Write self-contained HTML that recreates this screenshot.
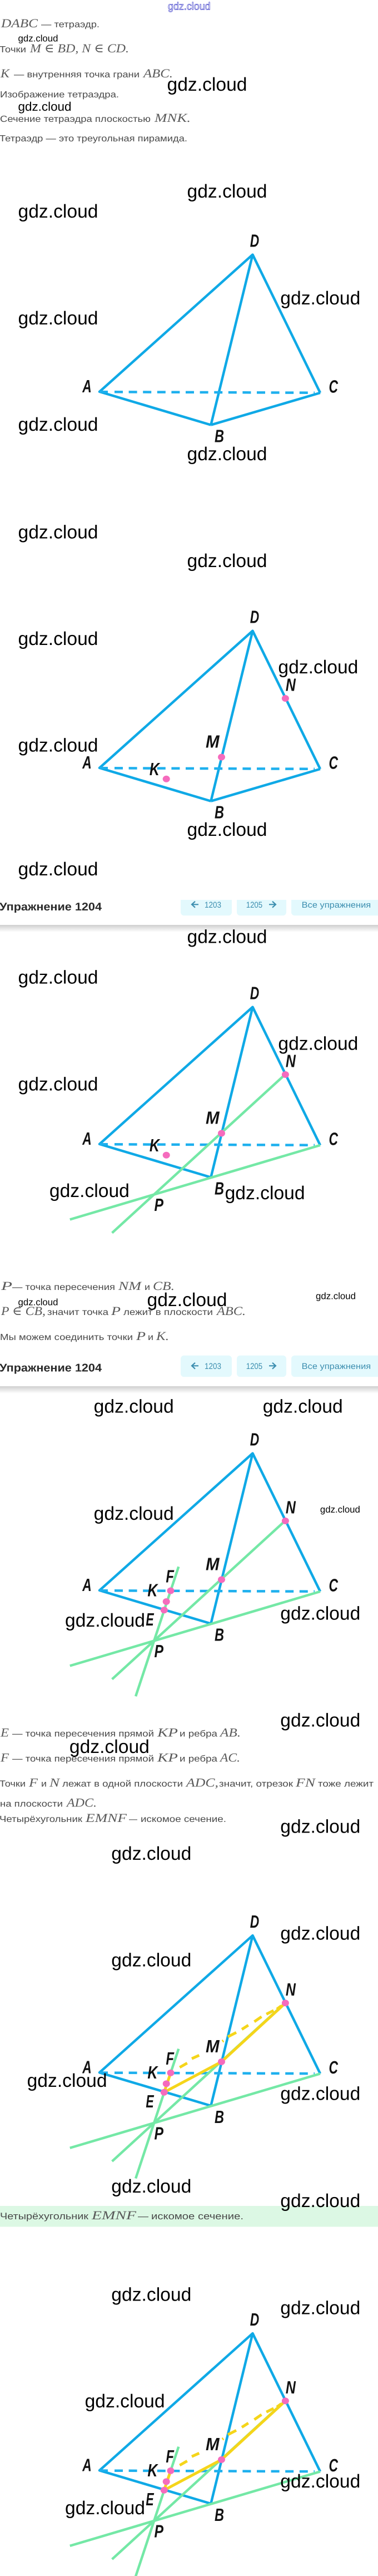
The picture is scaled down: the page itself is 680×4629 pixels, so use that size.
<!DOCTYPE html>
<html lang="ru"><head><meta charset="utf-8"><title>Упражнение 1204</title>
<style>
html,body{margin:0;padding:0;background:#fff}
svg{display:block}
.w{font-family:"Liberation Sans",sans-serif;font-size:33.6px;fill:#000}
.s{font-size:16.8px}.md{font-size:22.4px}
.t{font-family:"Liberation Sans",sans-serif;font-size:16px;fill:#4a4a4a}
.m{font-family:"Liberation Serif","DejaVu Serif",serif;font-style:italic;font-size:22px;fill:#5a5a5a}
.l{font-family:"Liberation Sans",sans-serif;font-style:italic;font-weight:bold;font-size:32px;fill:#111}
.h{font-family:"Liberation Sans",sans-serif;font-weight:bold;font-size:20px;fill:#2a2a2a}
.b{font-family:"Liberation Sans",sans-serif;font-size:15px;fill:#3d8fb0}
.bl{stroke:#0fa9e6;stroke-width:4.5;fill:none;stroke-linejoin:round}
.gr{stroke:#74e8a6;stroke-width:4.5;fill:none}
.ye{stroke:#f5d51a;stroke-width:5;fill:none}
.ar{stroke:#3d8fb0;stroke-width:2.2;fill:none}
.dot{fill:#f56bbd}
</style></head><body>
<svg xmlns="http://www.w3.org/2000/svg" width="680" height="4629" viewBox="0 0 680 4629" text-rendering="geometricPrecision">
<defs>
<linearGradient id="sh" x1="0" y1="0" x2="0" y2="1"><stop offset="0" stop-color="#cfcfcf"/><stop offset="1" stop-color="#fff"/></linearGradient>
<g id="tet">
<path class="bl" d="M379.4 763.6L179 703.9L454.5 457.6L576 705.9M454.5 457.6L379.4 763.6"/>
<line x1="179" y1="703.9" x2="194" y2="704" stroke="#1eb0ee" stroke-width="4"/>
<line x1="206" y1="704.3" x2="566" y2="705.8" stroke="#1eb0ee" stroke-width="4.5" stroke-dasharray="15 10.6"/>
</g>
<path id="bc" class="bl" d="M379.4 763.6L576 705.9"/>
<g id="g1"><path class="gr" d="M576 705.9L125.8 839.4"/><path class="gr" d="M513.4 578.4L201.6 863.5"/></g>
<path id="g2" class="gr" d="M321.3 661.3L244.1 894.2"/>
<g id="yel">
<path class="ye" d="M307 704.5L295.3 739.3L398.5 684.5L513.4 579"/>
<path class="ye" d="M323.3 694.6L336.7 686.9M345 678.9L358.3 672.9M400 647.9L402 646.6M410 639.6L425 631.9M435 626.3L446.7 618.9M457.5 612.5L470.5 603.5M479.2 599L492.2 592.4M498 590L506 584"/>
</g>
</defs>

<!-- text block 1 -->
<text x="302" y="17.4" font-family="Liberation Sans,sans-serif" font-size="19" fill="#fff" stroke="#3a3ac8" stroke-width=".7" textLength="76.6" lengthAdjust="spacingAndGlyphs">gdz.cloud</text>
<text class="m" x="2" y="49" textLength="66" lengthAdjust="spacingAndGlyphs">DABC</text>
<text class="t" x="74" y="49" textLength="105" lengthAdjust="spacingAndGlyphs">— тетраэдр.</text>
<text class="t" x="-1" y="94" textLength="48" lengthAdjust="spacingAndGlyphs">Точки</text>
<text class="m" x="54" y="94" textLength="178" lengthAdjust="spacingAndGlyphs">M ∈ BD, N ∈ CD.</text>
<text class="m" x="1" y="139" textLength="16" lengthAdjust="spacingAndGlyphs">K</text>
<text class="t" x="25" y="139" textLength="226" lengthAdjust="spacingAndGlyphs">— внутренняя точка грани</text>
<text class="m" x="258" y="139" textLength="53" lengthAdjust="spacingAndGlyphs">ABC.</text>
<text class="t" x="0" y="175" textLength="214" lengthAdjust="spacingAndGlyphs">Изображение тетраэдра.</text>
<text class="t" x="0" y="219" textLength="271" lengthAdjust="spacingAndGlyphs">Сечение тетраэдра плоскостью</text>
<text class="m" x="278" y="219" textLength="65" lengthAdjust="spacingAndGlyphs">MNK.</text>
<text class="t" x="-1" y="223.5" display="none"></text>
<text class="t" x="-1" y="254" textLength="338" lengthAdjust="spacingAndGlyphs">Тетраэдр — это треугольная пирамида.</text>

<!-- diagram 1 -->
<g>
<use href="#tet"/><use href="#bc"/>
<text class="l" x="449.7" y="443.7" textLength="16.5" lengthAdjust="spacingAndGlyphs">D</text>
<text class="l" x="148.3" y="705" textLength="16.5" lengthAdjust="spacingAndGlyphs">A</text>
<text class="l" x="591.5" y="705.4" textLength="16.5" lengthAdjust="spacingAndGlyphs">C</text>
<text class="l" x="386" y="794.5" textLength="17" lengthAdjust="spacingAndGlyphs">B</text>
</g>

<!-- diagram 2 -->
<g transform="translate(0,676)">
<use href="#tet"/><use href="#bc"/>
<ellipse class="dot" cx="513.4" cy="579" rx="6.5" ry="6"/><ellipse class="dot" cx="398.5" cy="684.5" rx="6.5" ry="6"/><ellipse class="dot" cx="299.2" cy="723.8" rx="6.5" ry="6"/>
<text class="l" x="449.7" y="443.7" textLength="16.5" lengthAdjust="spacingAndGlyphs">D</text>
<text class="l" x="148.3" y="705" textLength="16.5" lengthAdjust="spacingAndGlyphs">A</text>
<text class="l" x="591.5" y="705.4" textLength="16.5" lengthAdjust="spacingAndGlyphs">C</text>
<text class="l" x="386" y="794.5" textLength="17" lengthAdjust="spacingAndGlyphs">B</text>
<text class="l" x="513.9" y="565.7" textLength="18" lengthAdjust="spacingAndGlyphs">N</text>
<text class="l" x="370" y="667.7" textLength="24.6" lengthAdjust="spacingAndGlyphs">M</text>
<text class="l" x="268.9" y="717" textLength="18" lengthAdjust="spacingAndGlyphs">K</text>
</g>

<!-- header 1 -->
<rect x="0" y="1662" width="680" height="13" fill="url(#sh)"/>
<text class="h" x="-1" y="1635.8" textLength="184" lengthAdjust="spacingAndGlyphs">Упражнение 1204</text>
<path d="M325 1617H417V1639.3a6 6 0 0 1-6 6H331a6 6 0 0 1-6-6Z" fill="#e3f9fd"/>
<path d="M426 1617H515V1639.3a6 6 0 0 1-6 6H432a6 6 0 0 1-6-6Z" fill="#e3f9fd"/>
<path d="M524 1617H680V1645.3H530a6 6 0 0 1-6-6Z" fill="#e3f9fd"/>
<path class="ar" d="M357 1625.3H345M351 1619.8L345 1625.3L351 1630.8"/>
<text class="b" x="368" y="1631" textLength="30" lengthAdjust="spacingAndGlyphs">1203</text>
<text class="b" x="442.7" y="1631" textLength="29.5" lengthAdjust="spacingAndGlyphs">1205</text>
<path class="ar" d="M484 1625.3H496M490 1619.8L496 1625.3L490 1630.8"/>
<text class="b" x="542.7" y="1631" textLength="124.5" lengthAdjust="spacingAndGlyphs">Все упражнения</text>

<!-- diagram 3 -->
<g transform="translate(0,1352)">
<use href="#tet"/><use href="#g1"/>
<ellipse class="dot" cx="513.4" cy="579" rx="6.5" ry="6"/><ellipse class="dot" cx="398.5" cy="684.5" rx="6.5" ry="6"/><ellipse class="dot" cx="299.2" cy="723.8" rx="6.5" ry="6"/>
<text class="l" x="449.7" y="443.7" textLength="16.5" lengthAdjust="spacingAndGlyphs">D</text>
<text class="l" x="148.3" y="705" textLength="16.5" lengthAdjust="spacingAndGlyphs">A</text>
<text class="l" x="591.5" y="705.4" textLength="16.5" lengthAdjust="spacingAndGlyphs">C</text>
<text class="l" x="386" y="794.5" textLength="17" lengthAdjust="spacingAndGlyphs">B</text>
<text class="l" x="513.9" y="565.7" textLength="18" lengthAdjust="spacingAndGlyphs">N</text>
<text class="l" x="370" y="667.7" textLength="24.6" lengthAdjust="spacingAndGlyphs">M</text>
<text class="l" x="268.9" y="717" textLength="18" lengthAdjust="spacingAndGlyphs">K</text>
<text class="l" x="277.5" y="824" textLength="16.5" lengthAdjust="spacingAndGlyphs">P</text>
</g>

<!-- text block 2 -->
<text class="m" x="2" y="2318" textLength="20" lengthAdjust="spacingAndGlyphs">P</text>
<text class="t" x="22" y="2318" textLength="185" lengthAdjust="spacingAndGlyphs">— точка пересечения</text>
<text class="m" x="213" y="2318" textLength="41" lengthAdjust="spacingAndGlyphs">NM</text>
<text class="t" x="260" y="2318" textLength="10" lengthAdjust="spacingAndGlyphs">и</text>
<text class="m" x="275" y="2318" textLength="39" lengthAdjust="spacingAndGlyphs">CB.</text>
<text class="m" x="2" y="2363" textLength="80" lengthAdjust="spacingAndGlyphs">P ∈ CB,</text>
<text class="t" x="85" y="2363" textLength="110" lengthAdjust="spacingAndGlyphs">значит точка</text>
<text class="m" x="200" y="2363" textLength="17" lengthAdjust="spacingAndGlyphs">P</text>
<text class="t" x="222" y="2363" textLength="161" lengthAdjust="spacingAndGlyphs">лежит в плоскости</text>
<text class="m" x="390" y="2363" textLength="52" lengthAdjust="spacingAndGlyphs">ABC.</text>
<text class="t" x="0" y="2408" textLength="239" lengthAdjust="spacingAndGlyphs">Мы можем соединить точки</text>
<text class="m" x="245" y="2408" textLength="17" lengthAdjust="spacingAndGlyphs">P</text>
<text class="t" x="266" y="2408" textLength="10" lengthAdjust="spacingAndGlyphs">и</text>
<text class="m" x="281" y="2408" textLength="23" lengthAdjust="spacingAndGlyphs">K.</text>

<!-- header 2 -->
<rect x="0" y="2491" width="680" height="13" fill="url(#sh)"/>
<text class="h" x="-1" y="2464.5" textLength="184" lengthAdjust="spacingAndGlyphs">Упражнение 1204</text>
<rect x="325" y="2435.7" width="92" height="38.6" rx="6" fill="#e3f9fd"/>
<rect x="426" y="2435.7" width="89" height="38.6" rx="6" fill="#e3f9fd"/>
<path d="M680 2435.7H530a6 6 0 0 0-6 6V2468.3a6 6 0 0 0 6 6H680Z" fill="#e3f9fd"/>
<path class="ar" d="M357 2454.3H345M351 2448.8L345 2454.3L351 2459.8"/>
<text class="b" x="368" y="2460" textLength="30" lengthAdjust="spacingAndGlyphs">1203</text>
<text class="b" x="442.7" y="2460" textLength="29.5" lengthAdjust="spacingAndGlyphs">1205</text>
<path class="ar" d="M484 2454.3H496M490 2448.8L496 2454.3L490 2459.8"/>
<text class="b" x="542.7" y="2460" textLength="124.5" lengthAdjust="spacingAndGlyphs">Все упражнения</text>

<!-- diagram 4 -->
<g transform="translate(0,2154)">
<use href="#tet"/><use href="#g1"/><use href="#g2"/>
<ellipse class="dot" cx="513.4" cy="579" rx="6.5" ry="6"/><ellipse class="dot" cx="398.5" cy="684.5" rx="6.5" ry="6"/><ellipse class="dot" cx="299.2" cy="724" rx="6.5" ry="6"/><ellipse class="dot" cx="307" cy="704.5" rx="6.5" ry="6"/><ellipse class="dot" cx="295.3" cy="739.3" rx="6.5" ry="6"/>
<text class="l" x="449.7" y="443.7" textLength="16.5" lengthAdjust="spacingAndGlyphs">D</text>
<text class="l" x="148.3" y="705" textLength="16.5" lengthAdjust="spacingAndGlyphs">A</text>
<text class="l" x="591.5" y="705.4" textLength="16.5" lengthAdjust="spacingAndGlyphs">C</text>
<text class="l" x="386" y="794.5" textLength="17" lengthAdjust="spacingAndGlyphs">B</text>
<text class="l" x="513.9" y="565.7" textLength="18" lengthAdjust="spacingAndGlyphs">N</text>
<text class="l" x="370" y="667.7" textLength="24.6" lengthAdjust="spacingAndGlyphs">M</text>
<text class="l" x="265.4" y="714.6" textLength="18" lengthAdjust="spacingAndGlyphs">K</text>
<text class="l" x="277.5" y="824" textLength="16.5" lengthAdjust="spacingAndGlyphs">P</text>
<text class="l" x="298.4" y="689.4" textLength="14.6" lengthAdjust="spacingAndGlyphs">F</text>
<text class="l" x="262.4" y="766.8" textLength="14.3" lengthAdjust="spacingAndGlyphs">E</text>
</g>

<!-- text block 3 -->
<text class="m" x="1" y="3120.7" textLength="15" lengthAdjust="spacingAndGlyphs">E</text>
<text class="t" x="22" y="3120.7" textLength="255" lengthAdjust="spacingAndGlyphs">— точка пересечения прямой</text>
<text class="m" x="283" y="3120.7" textLength="37" lengthAdjust="spacingAndGlyphs">KP</text>
<text class="t" x="323" y="3120.7" textLength="68" lengthAdjust="spacingAndGlyphs">и ребра</text>
<text class="m" x="396" y="3120.7" textLength="37" lengthAdjust="spacingAndGlyphs">AB.</text>
<text class="m" x="1" y="3165.7" textLength="15" lengthAdjust="spacingAndGlyphs">F</text>
<text class="t" x="22" y="3165.7" textLength="255" lengthAdjust="spacingAndGlyphs">— точка пересечения прямой</text>
<text class="m" x="283" y="3165.7" textLength="37" lengthAdjust="spacingAndGlyphs">KP</text>
<text class="t" x="323" y="3165.7" textLength="68" lengthAdjust="spacingAndGlyphs">и ребра</text>
<text class="m" x="396" y="3165.7" textLength="36" lengthAdjust="spacingAndGlyphs">AC.</text>
<text class="t" x="-1" y="3210.7" textLength="47" lengthAdjust="spacingAndGlyphs">Точки</text>
<text class="m" x="52" y="3210.7" textLength="16" lengthAdjust="spacingAndGlyphs">F</text>
<text class="t" x="74" y="3210.7" textLength="10" lengthAdjust="spacingAndGlyphs">и</text>
<text class="m" x="89" y="3210.7" textLength="18" lengthAdjust="spacingAndGlyphs">N</text>
<text class="t" x="112" y="3210.7" textLength="217" lengthAdjust="spacingAndGlyphs">лежат в одной плоскости</text>
<text class="m" x="335" y="3210.7" textLength="58" lengthAdjust="spacingAndGlyphs">ADC,</text>
<text class="t" x="394" y="3210.7" textLength="133" lengthAdjust="spacingAndGlyphs">значит, отрезок</text>
<text class="m" x="532" y="3210.7" textLength="35" lengthAdjust="spacingAndGlyphs">FN</text>
<text class="t" x="572" y="3210.7" textLength="100" lengthAdjust="spacingAndGlyphs">тоже лежит</text>
<text class="t" x="0" y="3246.7" textLength="113" lengthAdjust="spacingAndGlyphs">на плоскости</text>
<text class="m" x="120" y="3246.7" textLength="54" lengthAdjust="spacingAndGlyphs">ADC.</text>
<text class="t" x="-1" y="3274" textLength="149" lengthAdjust="spacingAndGlyphs">Четырёхугольник</text>
<text class="m" x="154" y="3274" textLength="74" lengthAdjust="spacingAndGlyphs">EMNF</text>
<text class="t" x="232" y="3274" textLength="15" lengthAdjust="spacingAndGlyphs">—</text>
<text class="t" x="253" y="3274" textLength="154" lengthAdjust="spacingAndGlyphs">искомое сечение.</text>

<!-- diagram 5 -->
<g transform="translate(0,3020.4)">
<use href="#tet"/><use href="#g1"/><use href="#g2"/><use href="#yel"/>
<ellipse class="dot" cx="513.4" cy="579" rx="6.5" ry="6"/><ellipse class="dot" cx="398.5" cy="684.5" rx="6.5" ry="6"/><ellipse class="dot" cx="299.2" cy="724" rx="6.5" ry="6"/><ellipse class="dot" cx="307" cy="704.5" rx="6.5" ry="6"/><ellipse class="dot" cx="295.3" cy="739.3" rx="6.5" ry="6"/>
<text class="l" x="449.7" y="443.7" textLength="16.5" lengthAdjust="spacingAndGlyphs">D</text>
<text class="l" x="148.3" y="705" textLength="16.5" lengthAdjust="spacingAndGlyphs">A</text>
<text class="l" x="591.5" y="705.4" textLength="16.5" lengthAdjust="spacingAndGlyphs">C</text>
<text class="l" x="386" y="794.5" textLength="17" lengthAdjust="spacingAndGlyphs">B</text>
<text class="l" x="513.9" y="565.7" textLength="18" lengthAdjust="spacingAndGlyphs">N</text>
<text class="l" x="370" y="667.7" textLength="24.6" lengthAdjust="spacingAndGlyphs">M</text>
<text class="l" x="265.4" y="714.6" textLength="18" lengthAdjust="spacingAndGlyphs">K</text>
<text class="l" x="277.5" y="824" textLength="16.5" lengthAdjust="spacingAndGlyphs">P</text>
<text class="l" x="298.4" y="689.4" textLength="14.6" lengthAdjust="spacingAndGlyphs">F</text>
<text class="l" x="262.4" y="766.8" textLength="14.3" lengthAdjust="spacingAndGlyphs">E</text>
</g>

<!-- green band -->
<rect x="0" y="3964" width="680" height="37.5" fill="#dcf8e4"/>
<text class="t" x="0" y="3988" style="font-size:17px" textLength="159" lengthAdjust="spacingAndGlyphs">Четырёхугольник</text>
<text class="m" x="165" y="3988" textLength="80" lengthAdjust="spacingAndGlyphs">EMNF</text>
<text class="t" x="248" y="3988" style="font-size:17px" textLength="19" lengthAdjust="spacingAndGlyphs">—</text>
<text class="t" x="272" y="3988" style="font-size:17px" textLength="166" lengthAdjust="spacingAndGlyphs">искомое сечение.</text>

<!-- diagram 6 -->
<g transform="translate(0,3735.4)">
<use href="#tet"/><use href="#g1"/><use href="#g2"/><use href="#yel"/>
<ellipse class="dot" cx="513.4" cy="579" rx="6.5" ry="6"/><ellipse class="dot" cx="398.5" cy="684.5" rx="6.5" ry="6"/><ellipse class="dot" cx="299.2" cy="724" rx="6.5" ry="6"/><ellipse class="dot" cx="307" cy="704.5" rx="6.5" ry="6"/><ellipse class="dot" cx="295.3" cy="739.3" rx="6.5" ry="6"/>
<text class="l" x="449.7" y="443.7" textLength="16.5" lengthAdjust="spacingAndGlyphs">D</text>
<text class="l" x="148.3" y="705" textLength="16.5" lengthAdjust="spacingAndGlyphs">A</text>
<text class="l" x="591.5" y="705.4" textLength="16.5" lengthAdjust="spacingAndGlyphs">C</text>
<text class="l" x="386" y="794.5" textLength="17" lengthAdjust="spacingAndGlyphs">B</text>
<text class="l" x="513.9" y="565.7" textLength="18" lengthAdjust="spacingAndGlyphs">N</text>
<text class="l" x="370" y="667.7" textLength="24.6" lengthAdjust="spacingAndGlyphs">M</text>
<text class="l" x="265.4" y="714.6" textLength="18" lengthAdjust="spacingAndGlyphs">K</text>
<text class="l" x="277.5" y="824" textLength="16.5" lengthAdjust="spacingAndGlyphs">P</text>
<text class="l" x="298.4" y="689.4" textLength="14.6" lengthAdjust="spacingAndGlyphs">F</text>
<text class="l" x="262.4" y="766.8" textLength="14.3" lengthAdjust="spacingAndGlyphs">E</text>
</g>

<!-- watermarks -->
<g>
<text class="w s" x="32.5" y="74.6" textLength="72" lengthAdjust="spacingAndGlyphs">gdz.cloud</text>
<text class="w" x="300.5" y="163" textLength="144" lengthAdjust="spacingAndGlyphs">gdz.cloud</text>
<text class="w md" x="32.5" y="199" textLength="96" lengthAdjust="spacingAndGlyphs">gdz.cloud</text>
<text class="w" x="336.5" y="355" textLength="144" lengthAdjust="spacingAndGlyphs">gdz.cloud</text>
<text class="w" x="32.5" y="391" textLength="144" lengthAdjust="spacingAndGlyphs">gdz.cloud</text>
<text class="w" x="504.3" y="547" textLength="144" lengthAdjust="spacingAndGlyphs">gdz.cloud</text>
<text class="w" x="32.5" y="583" textLength="144" lengthAdjust="spacingAndGlyphs">gdz.cloud</text>
<text class="w" x="32.5" y="774" textLength="144" lengthAdjust="spacingAndGlyphs">gdz.cloud</text>
<text class="w" x="336.5" y="827" textLength="144" lengthAdjust="spacingAndGlyphs">gdz.cloud</text>
<text class="w" x="32.5" y="967.5" textLength="144" lengthAdjust="spacingAndGlyphs">gdz.cloud</text>
<text class="w" x="336.5" y="1018.8" textLength="144" lengthAdjust="spacingAndGlyphs">gdz.cloud</text>
<text class="w" x="32.5" y="1159" textLength="144" lengthAdjust="spacingAndGlyphs">gdz.cloud</text>
<text class="w" x="500.4" y="1210" textLength="144" lengthAdjust="spacingAndGlyphs">gdz.cloud</text>
<text class="w" x="32.5" y="1350.6" textLength="144" lengthAdjust="spacingAndGlyphs">gdz.cloud</text>
<text class="w" x="336.5" y="1502" textLength="144" lengthAdjust="spacingAndGlyphs">gdz.cloud</text>
<text class="w" x="32.5" y="1573" textLength="144" lengthAdjust="spacingAndGlyphs">gdz.cloud</text>
<text class="w" x="336.5" y="1694.7" textLength="144" lengthAdjust="spacingAndGlyphs">gdz.cloud</text>
<text class="w" x="32.5" y="1767.7" textLength="144" lengthAdjust="spacingAndGlyphs">gdz.cloud</text>
<text class="w" x="500.4" y="1886.6" textLength="144" lengthAdjust="spacingAndGlyphs">gdz.cloud</text>
<text class="w" x="32.5" y="1959.6" textLength="144" lengthAdjust="spacingAndGlyphs">gdz.cloud</text>
<text class="w" x="88.9" y="2151" textLength="144" lengthAdjust="spacingAndGlyphs">gdz.cloud</text>
<text class="w" x="404.6" y="2155" textLength="144" lengthAdjust="spacingAndGlyphs">gdz.cloud</text>
<text class="w s" x="568" y="2334.5" textLength="72" lengthAdjust="spacingAndGlyphs">gdz.cloud</text>
<text class="w" x="264.5" y="2346.8" textLength="144" lengthAdjust="spacingAndGlyphs">gdz.cloud</text>
<text class="w s" x="32.5" y="2345.7" textLength="72" lengthAdjust="spacingAndGlyphs">gdz.cloud</text>
<text class="w" x="168.7" y="2538.6" textLength="144" lengthAdjust="spacingAndGlyphs">gdz.cloud</text>
<text class="w" x="472.7" y="2538.6" textLength="144" lengthAdjust="spacingAndGlyphs">gdz.cloud</text>
<text class="w" x="168.7" y="2731" textLength="144" lengthAdjust="spacingAndGlyphs">gdz.cloud</text>
<text class="w s" x="575.9" y="2718" textLength="72" lengthAdjust="spacingAndGlyphs">gdz.cloud</text>
<text class="w" x="117" y="2923" textLength="144" lengthAdjust="spacingAndGlyphs">gdz.cloud</text>
<text class="w" x="504.3" y="2910.7" textLength="144" lengthAdjust="spacingAndGlyphs">gdz.cloud</text>
<text class="w" x="504.3" y="3102.6" textLength="144" lengthAdjust="spacingAndGlyphs">gdz.cloud</text>
<text class="w" x="124.9" y="3150" textLength="144" lengthAdjust="spacingAndGlyphs">gdz.cloud</text>
<text class="w" x="504.3" y="3293.6" textLength="144" lengthAdjust="spacingAndGlyphs">gdz.cloud</text>
<text class="w" x="200.3" y="3341.8" textLength="144" lengthAdjust="spacingAndGlyphs">gdz.cloud</text>
<text class="w" x="504.3" y="3485.5" textLength="144" lengthAdjust="spacingAndGlyphs">gdz.cloud</text>
<text class="w" x="200.3" y="3533.7" textLength="144" lengthAdjust="spacingAndGlyphs">gdz.cloud</text>
<text class="w" x="48.6" y="3749.8" textLength="144" lengthAdjust="spacingAndGlyphs">gdz.cloud</text>
<text class="w" x="504.3" y="3773.5" textLength="144" lengthAdjust="spacingAndGlyphs">gdz.cloud</text>
<text class="w" x="200.3" y="3940" textLength="144" lengthAdjust="spacingAndGlyphs">gdz.cloud</text>
<text class="w" x="504.3" y="3966" textLength="144" lengthAdjust="spacingAndGlyphs">gdz.cloud</text>
<text class="w" x="200.3" y="4134.7" textLength="144" lengthAdjust="spacingAndGlyphs">gdz.cloud</text>
<text class="w" x="504.3" y="4158.4" textLength="144" lengthAdjust="spacingAndGlyphs">gdz.cloud</text>
<text class="w" x="152.6" y="4325.8" textLength="144" lengthAdjust="spacingAndGlyphs">gdz.cloud</text>
<text class="w" x="504.3" y="4470" textLength="144" lengthAdjust="spacingAndGlyphs">gdz.cloud</text>
<text class="w" x="117" y="4518" textLength="144" lengthAdjust="spacingAndGlyphs">gdz.cloud</text>
</g>
</svg>
</body></html>
